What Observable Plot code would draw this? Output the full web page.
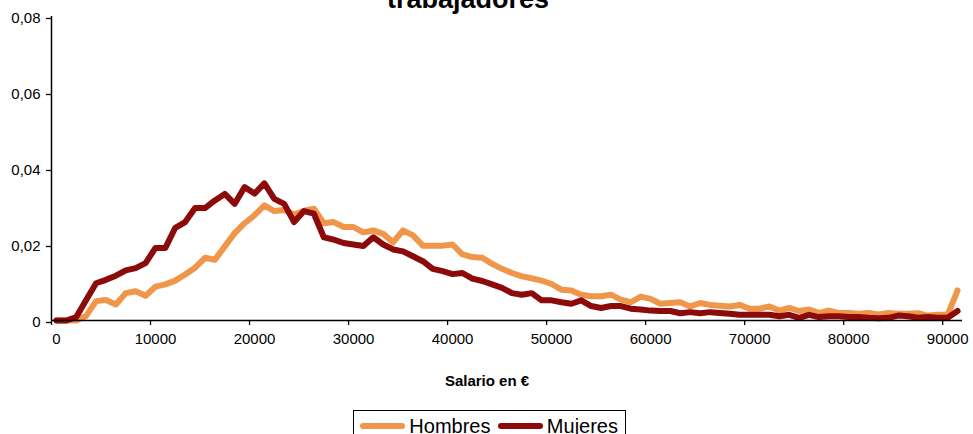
<!DOCTYPE html>
<html>
<head>
<meta charset="utf-8">
<script src="https://cdn.jsdelivr.net/npm/d3@7"></script>
<script src="https://cdn.jsdelivr.net/npm/@observablehq/plot@0.6"></script>
<style>
  html, body { margin: 0; padding: 0; background: white; overflow: hidden; }
  #wrap { position: relative; width: 973px; height: 434px; overflow: hidden; font-family: "Liberation Sans", Arial, sans-serif; }
  #legend { position: absolute; left: 353px; top: 410px; width: 273px; height: 32px; border: 1.5px solid #000; box-sizing: border-box; display: flex; align-items: center; padding-left: 6px; }
  .sw { display: inline-block; width: 49px; height: 6px; border-radius: 3px; margin-right: 4px; }
  .lab { font-size: 20px; color: #000; margin-right: 7px; line-height: 20px; }
</style>
</head>
<body>
<div id="wrap"></div>
<script>
// Salary categories (€), one per 1000 €
const salario = [0,1000,2000,3000,4000,5000,6000,7000,8000,9000,
  10000,11000,12000,13000,14000,15000,16000,17000,18000,19000,
  20000,21000,22000,23000,24000,25000,26000,27000,28000,29000,
  30000,31000,32000,33000,34000,35000,36000,37000,38000,39000,
  40000,41000,42000,43000,44000,45000,46000,47000,48000,49000,
  50000,51000,52000,53000,54000,55000,56000,57000,58000,59000,
  60000,61000,62000,63000,64000,65000,66000,67000,68000,69000,
  70000,71000,72000,73000,74000,75000,76000,77000,78000,79000,
  80000,81000,82000,83000,84000,85000,86000,87000,88000,89000,
  90000,91000];

const hombres = [0,0,0,0.0012,0.0051,0.0054,0.0042,0.0072,0.0077,0.0065,
  0.0089,0.0095,0.0105,0.0121,0.0139,0.0165,0.0160,0.0195,0.0230,0.0256,
  0.0277,0.0303,0.0288,0.0291,0.0279,0.0289,0.0294,0.0256,0.0259,0.0246,
  0.0246,0.0232,0.0237,0.0228,0.0206,0.0237,0.0224,0.0197,0.0197,0.0197,
  0.0200,0.0174,0.0167,0.0165,0.0149,0.0136,0.0125,0.0116,0.0111,0.0105,
  0.0096,0.0081,0.0079,0.0068,0.0064,0.0064,0.0068,0.0055,0.0048,0.0063,
  0.0057,0.0044,0.0046,0.0048,0.0037,0.0046,0.0041,0.0039,0.0037,0.0041,
  0.0031,0.0031,0.0037,0.0026,0.0033,0.0025,0.0029,0.0020,0.0026,0.0020,
  0.0020,0.0018,0.0020,0.0016,0.0020,0.0018,0.0018,0.0019,0.0013,0.0015,
  0.0015,0.0079];

const mujeres = [0,0,0.0009,0.0054,0.0098,0.0107,0.0118,0.0132,0.0138,0.0151,
  0.0191,0.0191,0.0244,0.0259,0.0296,0.0296,0.0316,0.0333,0.0307,0.0351,
  0.0334,0.0361,0.0320,0.0307,0.0259,0.0288,0.0281,0.0219,0.0213,0.0204,
  0.0200,0.0196,0.0219,0.0200,0.0187,0.0182,0.0169,0.0156,0.0136,0.0130,
  0.0122,0.0125,0.0110,0.0104,0.0095,0.0086,0.0072,0.0068,0.0072,0.0053,
  0.0053,0.0048,0.0044,0.0053,0.0038,0.0033,0.0038,0.0038,0.0031,0.0029,
  0.0026,0.0025,0.0025,0.0019,0.0022,0.0019,0.0022,0.0020,0.0018,0.0015,
  0.0015,0.0015,0.0015,0.0011,0.0015,0.0007,0.0015,0.0009,0.0011,0.0011,
  0.0009,0.0009,0.0007,0.0006,0.0007,0.0013,0.0011,0.0007,0.0009,0.0007,
  0.0007,0.0025];

const xTicks = [0,10000,20000,30000,40000,50000,60000,70000,80000,90000];
const yTicks = [0,0.02,0.04,0.06,0.08];
const seriesNames = ["Hombres", "Mujeres"];
const seriesColors = ["#F0964B", "#8C0A0A"];
const titleText = "trabajadores";
const xLabel = "Salario en €";

const dataH = salario.map((s, i) => ({salario: s, valor: hombres[i]}));
const dataM = salario.map((s, i) => ({salario: s, valor: mujeres[i]}));

const fmtY = d => d === 0 ? "0" : d.toFixed(2).replace(".", ",");

const chart = Plot.plot({
  width: 973,
  height: 400,
  marginLeft: 51,
  marginRight: 11,
  marginTop: 16,
  marginBottom: 80,
  style: {fontFamily: "'Liberation Sans', Arial, sans-serif", fontSize: "15px", color: "#000", background: "white"},
  x: {domain: [0, 92000], label: null},
  y: {domain: [0, 0.08], label: null},
  marks: [
    Plot.axisY({ticks: yTicks, tickSize: 5, tickPadding: 6, tickFormat: fmtY, label: null, dy: 2, strokeWidth: 1.3}),
    Plot.axisX({ticks: xTicks, tickSize: 5, fill: "none", label: null, strokeWidth: 1.3}),
    Plot.axisX({ticks: xTicks, tickSize: 0, tickPadding: 13, dx: 5, tickFormat: d => String(d), label: null}),
    Plot.line(dataH, {x: "salario", y: "valor", dx: 4.95, stroke: seriesColors[0], strokeWidth: 6, strokeLinejoin: "round", strokeLinecap: "round"}),
    Plot.line(dataM, {x: "salario", y: "valor", dx: 4.95, stroke: seriesColors[1], strokeWidth: 6, strokeLinejoin: "round", strokeLinecap: "round"}),
    Plot.ruleX([0], {stroke: "#000", strokeWidth: 1.5}),
    Plot.ruleY([0], {stroke: "#000", strokeWidth: 1.5}),
    Plot.text([titleText], {frameAnchor: "top", dx: -39, dy: -17, lineAnchor: "middle", fontSize: 27, fontWeight: "bold", fill: "#000"}),
    Plot.text([xLabel], {frameAnchor: "bottom", dx: -20, dy: 61, lineAnchor: "middle", fontSize: 15, fontWeight: "bold", fill: "#000"})
  ]
});

const wrap = document.getElementById("wrap");
wrap.appendChild(chart);

const legend = document.createElement("div");
legend.id = "legend";
seriesNames.forEach((name, i) => {
  const sw = document.createElement("span");
  sw.className = "sw";
  sw.style.background = seriesColors[i];
  const lab = document.createElement("span");
  lab.className = "lab";
  lab.textContent = name;
  legend.appendChild(sw);
  legend.appendChild(lab);
});
wrap.appendChild(legend);
</script>
</body>
</html>
